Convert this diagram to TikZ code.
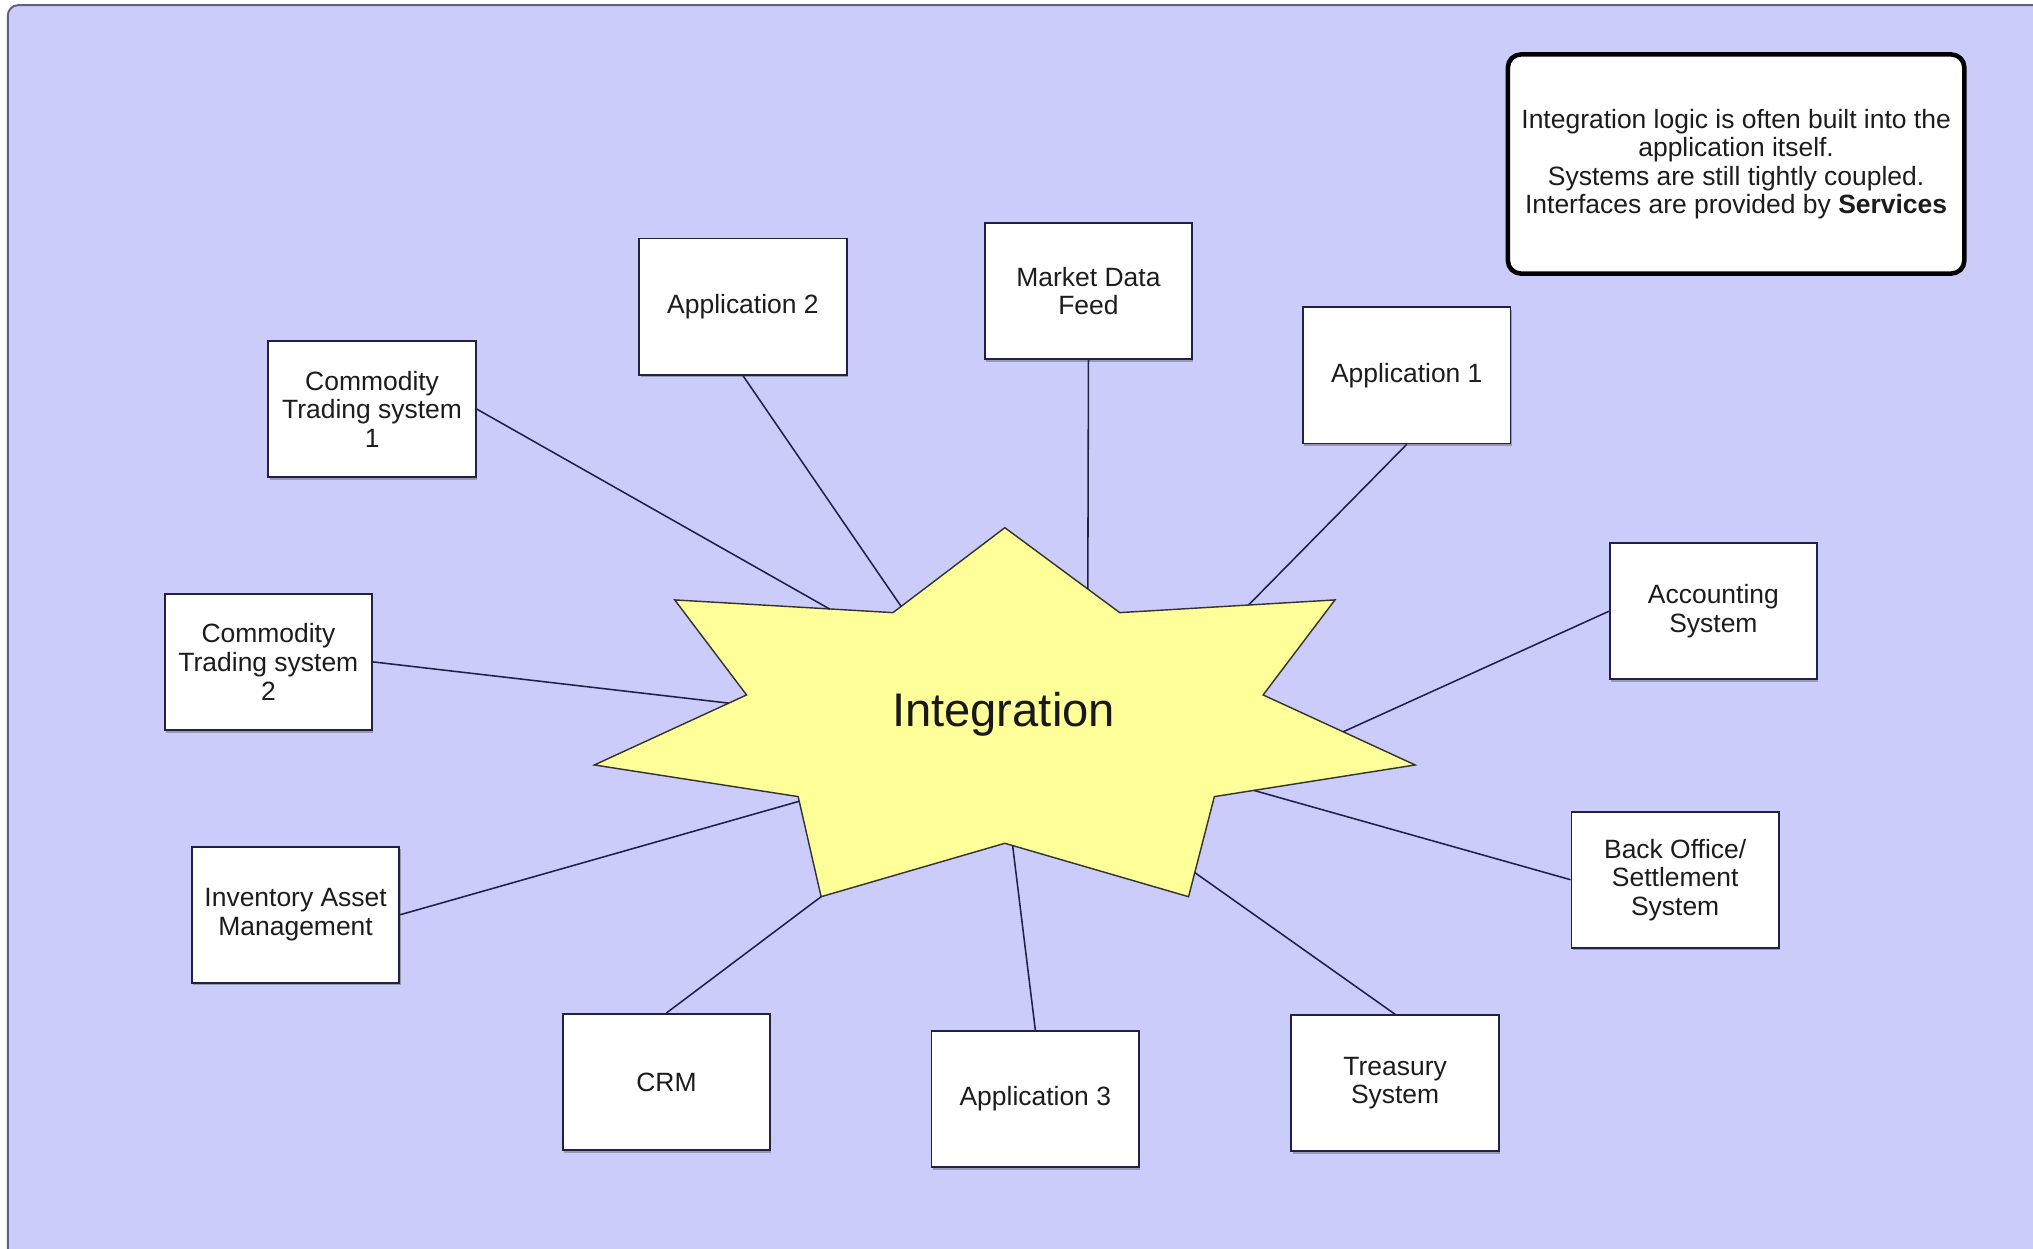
\documentclass[tikz,border=0pt]{standalone}
\usepackage{fontspec}
\setmainfont{Liberation Sans}
\usetikzlibrary{shadows}
\definecolor{bgc}{RGB}{204,204,250}
\definecolor{framec}{RGB}{96,96,128}
\definecolor{starc}{RGB}{255,255,153}
\definecolor{linec}{RGB}{32,32,72}
\definecolor{txtc}{RGB}{28,28,28}
\begin{document}
\begin{tikzpicture}[x=1pt,y=-1pt,
  sysbox/.style={draw=linec, line width=1.4pt, fill=white,
    minimum width=160pt, minimum height=105pt, align=center,
    font=\fontsize{20.4}{22}\selectfont, text=txtc, inner sep=0pt,
    drop shadow={shadow xshift=1pt, shadow yshift=-2pt, fill=black!60, opacity=0.5}},
  link/.style={draw=linec, line width=1.2pt},
  notebox/.style={draw=black, line width=3.5pt, fill=white, rounded corners=10pt,
    minimum width=352pt, minimum height=169pt, align=center,
    font=\fontsize{20.4}{22}\selectfont, text=txtc, inner sep=0pt}]
\useasboundingbox (0,0) rectangle (1568,962.6);
\fill[white] (0,0) rectangle (1568,962.6);
\draw[fill=bgc, draw=framec, line width=1.5pt, rounded corners=8pt] (6,4) rectangle (1585,975);

% star
\draw[fill=starc, draw=black!80, line width=1.1pt, line join=miter]
  (775,407) -- (863.6,472.5) -- (1029.6,462.7) -- (974.2,536) -- (1091.5,590)
  -- (936.6,614.4) -- (916.7,691.6) -- (775,650.4) -- (633.3,691.6)
  -- (615.6,614.4) -- (458.4,590) -- (575.8,536) -- (520.4,462.7)
  -- (688.7,472.5) -- cycle;
\node[font=\fontsize{36.4}{40}\selectfont, text=black!90] (integ) at (774,551) {Integration};

% star contact points
\coordinate (e1) at (640,469.8);
\coordinate (e2) at (695,467.7);
\coordinate (e3) at (839,454.3);
\coordinate (e4) at (963,466.6);
\coordinate (e5) at (1036,564.4);
\coordinate (e6) at (562,542.3);
\coordinate (e7) at (616.4,618);
\coordinate (e8) at (633.3,691.6);
\coordinate (e9) at (781,652.1);
\coordinate (e10) at (921.5,673);
\coordinate (e11) at (967,609.6);

% boxes
\node[sysbox] (cts1) at (287,315.5) {Commodity\\Trading system\\1};
\node[sysbox] (app2) at (573,236.5) {Application 2};
\node[sysbox] (mdf) at (839.5,224.5) {Market Data\\Feed};
\node[sysbox] (app1) at (1085,289.5) {Application 1};
\node[sysbox] (acc) at (1321.5,471.5) {Accounting\\System};
\node[sysbox] (cts2) at (207,510.5) {Commodity\\Trading system\\2};
\node[sysbox] (inv) at (228,705.5) {Inventory Asset\\Management};
\node[sysbox] (crm) at (514,834.5) {CRM};
\node[sysbox] (app3) at (798.5,847.5) {Application 3};
\node[sysbox] (tre) at (1076,835.5) {Treasury\\System};
\node[sysbox] (bo) at (1292,678.5) {Back Office/\\Settlement\\System};

% connectors
\draw[link] (cts1.east) -- (e1);
\draw[link] (app2.south) -- (e2);
\draw[link] (mdf.south) -- (e3);
\draw[link] (app1.south) -- (e4);
\draw[link] (acc.west) -- (e5);
\draw[link] (cts2.east) -- (e6);
\draw[link] (inv.east) -- (e7);
\draw[link] (crm.north) -- (e8);
\draw[link] (app3.north) -- (e9);
\draw[link] (tre.north) -- (e10);
\draw[link] (bo.west) -- (e11);

% note
\node[notebox] (note) at (1339,126.5) {Integration logic is often built into the\\application itself.\\Systems are still tightly coupled.\\Interfaces are provided by \textbf{Services}};
\end{tikzpicture}
\end{document}
